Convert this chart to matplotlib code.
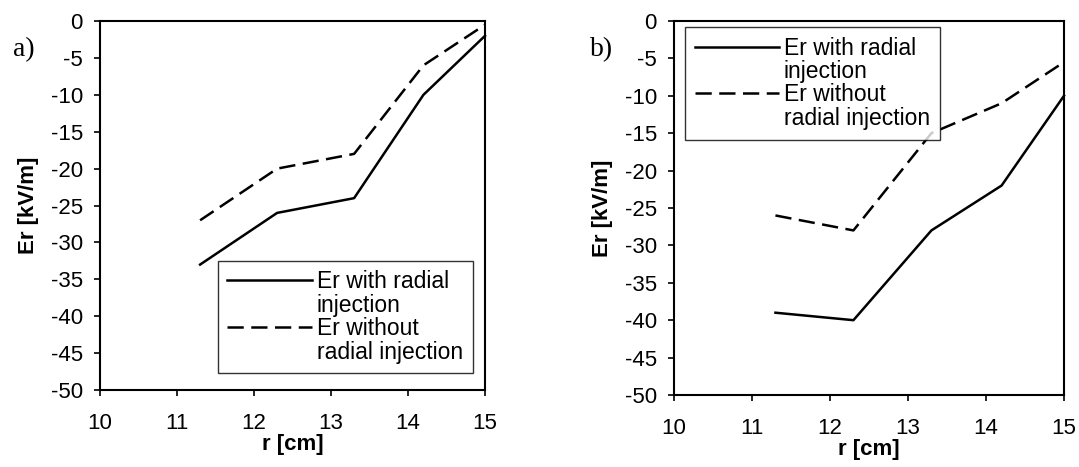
import matplotlib.pyplot as plt
from matplotlib.lines import Line2D

# radial positions [cm]
r = [11.3, 12.3, 13.3, 14.2, 15.0]

# panel a)
er_with_a = [-33, -26, -24, -10, -2]
er_without_a = [-27, -20, -18, -6, -0.5]

# panel b)
er_with_b = [-39, -40, -28, -22, -10]
er_without_b = [-26, -28, -15, -11, -5.5]

x_ticks = [10, 11, 12, 13, 14, 15]
y_ticks = list(range(-50, 1, 5))
legend_lines = ['Er with radial', 'injection', 'Er without', 'radial injection']

plt.rcParams['font.family'] = ['Liberation Sans', 'DejaVu Sans']
plt.rcParams['axes.unicode_minus'] = False

fig = plt.figure(figsize=(10.79, 4.67), dpi=100)
ax_a = fig.add_axes([0.0927, 0.1649, 0.3568, 0.790])
ax_b = fig.add_axes([0.6247, 0.1542, 0.3614, 0.8009])

DASH = (6.5, 3)


def style_axes(ax):
    ax.set_xlim(10, 15)
    ax.set_ylim(-50, 0)
    ax.set_xticks(x_ticks)
    ax.set_yticks(y_ticks)
    ax.tick_params(direction='out', length=4.3, width=1.2, labelsize=16, colors='black')
    ax.tick_params(axis='x', pad=12)
    ax.tick_params(axis='y', pad=8)
    for s in ax.spines.values():
        s.set_linewidth(1.5)
    ax.set_xlabel('r [cm]', fontsize=16, fontweight='bold', labelpad=0.5)
    ax.set_ylabel('Er [kV/m]', fontsize=16, fontweight='bold', labelpad=8.5)


def draw_panel(ax, with_vals, without_vals, legend_anchor):
    ax.plot(r, with_vals, color='black', lw=1.8, clip_on=False)
    ax.plot(r, without_vals, color='black', lw=1.8, dashes=DASH, clip_on=False)
    style_axes(ax)
    # one legend row per text line so the handle sits beside the first line
    handles = [Line2D([], [], color='black', lw=1.8),
               Line2D([], [], color='none'),
               Line2D([], [], color='black', lw=1.8, dashes=DASH),
               Line2D([], [], color='none')]
    leg = ax.legend(handles, legend_lines, loc='upper left', bbox_to_anchor=legend_anchor,
                    borderaxespad=0, fontsize=16.5, handlelength=3.7, handletextpad=0.2,
                    labelspacing=0.02, frameon=True, fancybox=False, edgecolor='black',
                    borderpad=0.42)
    leg.get_frame().set_linewidth(1.0)


draw_panel(ax_a, er_with_a, er_without_a, (0.306, 0.35))
draw_panel(ax_b, er_with_b, er_without_b, (0.028, 0.984))

fig.text(0.012, 0.893, 'a)', fontsize=20, family='Liberation Serif', va='center')
fig.text(0.547, 0.893, 'b)', fontsize=20, family='Liberation Serif', va='center')

fig.savefig('out.png', dpi=100)
